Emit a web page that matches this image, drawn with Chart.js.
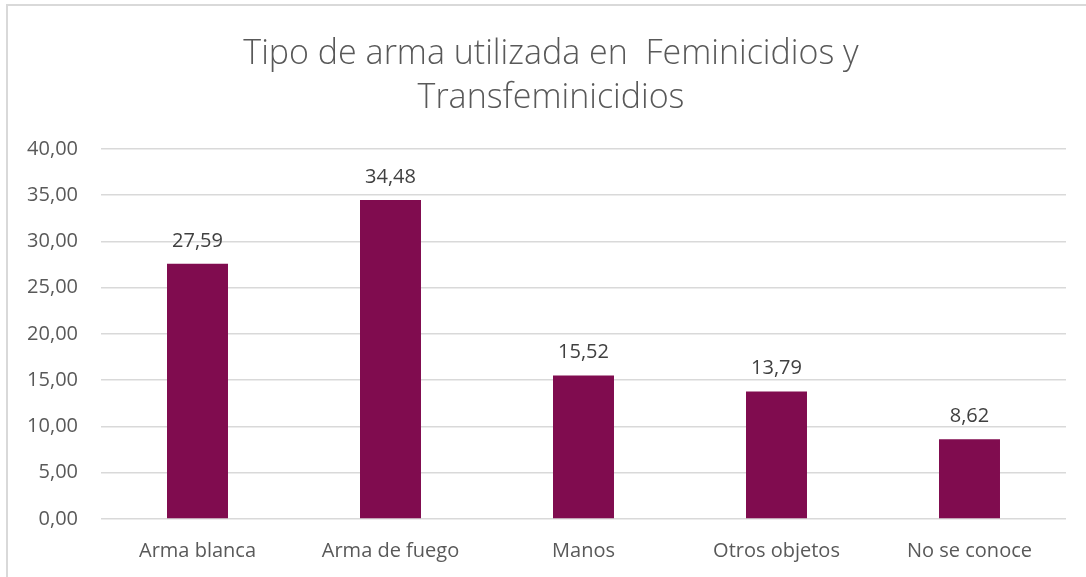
<!DOCTYPE html>
<html>
<head>
<meta charset="utf-8">
<script src="https://cdn.jsdelivr.net/npm/chart.js@4.4.1/dist/chart.umd.min.js"></script>
<style>
  html, body { margin: 0; padding: 0; background: #ffffff; }
  #wrap { width: 1086px; height: 577px; position: relative; }
</style>
</head>
<body>
<div id="wrap"><canvas id="c" width="1086" height="577"></canvas></div>
<script>
const categories = ["Arma blanca", "Arma de fuego", "Manos", "Otros objetos", "No se conoce"];
const values = [27.59, 34.48, 15.52, 13.79, 8.62];
const titleLines = ["Tipo de arma utilizada en  Feminicidios y", "Transfeminicidios"];
const yMin = 0, yMax = 40, yStep = 5;

const fmt = v => v.toFixed(2).replace('.', ',');

const frame = {
  id: 'frame',
  beforeDraw(chart) {
    const ctx = chart.ctx;
    ctx.save();
    ctx.fillStyle = '#ffffff';
    ctx.fillRect(0, 0, chart.width, chart.height);
    ctx.strokeStyle = '#d9d9d9';
    ctx.lineWidth = 2;
    ctx.beginPath();
    ctx.moveTo(7, chart.height);
    ctx.lineTo(7, 5);
    ctx.lineTo(chart.width, 5);
    ctx.stroke();
    ctx.restore();
  }
};

const barLabels = {
  id: 'barLabels',
  afterDatasetsDraw(chart) {
    const ctx = chart.ctx;
    const meta = chart.getDatasetMeta(0);
    ctx.save();
    ctx.font = '400 20px "Open Sans"';
    ctx.fillStyle = '#404040';
    ctx.textAlign = 'center';
    ctx.textBaseline = 'alphabetic';
    meta.data.forEach((el, i) => {
      ctx.fillText(fmt(values[i]), el.x, el.y - 17);
    });
    ctx.restore();
  }
};

new Chart(document.getElementById('c'), {
  type: 'bar',
  data: {
    labels: categories,
    datasets: [{
      data: values,
      backgroundColor: '#800c4f',
      borderWidth: 0,
      barPercentage: 0.316,
      categoryPercentage: 1.0
    }]
  },
  options: {
    responsive: false,
    animation: false,
    devicePixelRatio: 1,
    layout: { padding: { left: 16, right: 0, top: 0, bottom: 0 } },
    plugins: {
      legend: { display: false },
      tooltip: { enabled: false },
      title: {
        display: true,
        text: titleLines,
        color: '#595959',
        font: { family: '"Open Sans"', size: 34, weight: '300', lineHeight: 1.294 },
        padding: { top: 32, bottom: 29 }
      }
    },
    scales: {
      x: {
        grid: { display: false, drawTicks: false },
        border: { display: false },
        ticks: {
          color: '#595959',
          font: { family: '"Open Sans"', size: 20 },
          padding: 20,
          maxRotation: 0,
          autoSkip: false
        },
        afterFit(s) { s.height = 58; }
      },
      y: {
        min: yMin,
        max: yMax,
        grid: { color: '#d9d9d9', lineWidth: 1.5, drawTicks: false },
        border: { display: false },
        ticks: {
          stepSize: yStep,
          color: '#595959',
          font: { family: '"Open Sans"', size: 20 },
          padding: 23,
          callback: v => fmt(v)
        },
        afterFit(s) { s.width = 85; }
      },
      yRight: {
        position: 'right',
        min: yMin,
        max: yMax,
        grid: { display: false, drawTicks: false },
        border: { display: false },
        ticks: { display: false },
        afterFit(s) { s.width = 20; }
      }
    }
  },
  plugins: [frame, barLabels]
});
</script>
</body>
</html>
